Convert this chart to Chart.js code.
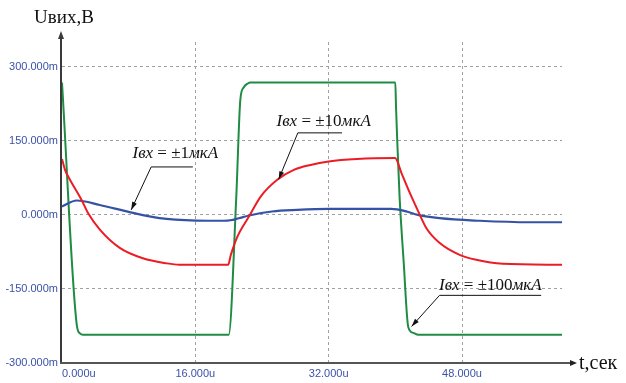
<!DOCTYPE html>
<html>
<head>
<meta charset="utf-8">
<script src="https://cdn.jsdelivr.net/npm/chart.js@4/dist/chart.umd.min.js"></script>
<style>
html, body { margin: 0; padding: 0; background: #fff; }
#wrap { width: 626px; height: 383px; position: relative; }
</style>
</head>
<body>
<div id="wrap"><canvas id="chart"></canvas></div>
<script>
// Данные (время в мкс, напряжение в мВ)
const xTicks = [0, 16, 32, 48, 60];
const yTicks = [-300, -150, 0, 150, 300];

// Iвх = ±100мкА
const greenT = [0, 1.8, 2.15, 2.5, 20.0, 20.9, 21.4, 21.8, 22.3, 22.6, 40.0, 40.08, 40.24, 40.5, 41.0, 41.55, 42.15, 42.75, 60];
const greenV = [268, -226, -240, -243, -243, 31, 233, 258, 266, 268, 268, 220, 146, 40, -95, -227, -239, -243, -243];

// Iвх = ±10мкА
const redT = [0, 0.36, 0.96, 2.35, 3.14, 4.54, 6.93, 9.7, 12.5, 14.1, 19.94, 20.26, 21.05, 22.45, 23.84, 25.83, 27.82, 29.82, 32.0, 35.38, 39.96, 40.75, 41.75, 42.75, 43.73, 45.33, 47.72, 49.7, 52.9, 60];
const redV = [113, 91, 71, 30, 3, -30, -67, -88, -98, -101, -101, -81, -44, -3, 37, 71, 91, 101, 108, 113, 115, 84, 44, 7, -27, -57, -81, -91, -99, -101];

// Iвх = ±1мкА
const blueT = [0, 1.76, 4.54, 8.1, 11.7, 16.1, 19.5, 20.2, 21.2, 22.45, 25.2, 28.2, 32, 39.5, 40.2, 41.3, 42.7, 45.3, 50.1, 56.1, 60];
const blueV = [17, 29, 20, 5.5, -6.7, -11.5, -12, -11, -7, -1.4, 6.8, 10, 12, 12, 11, 7, 0, -6.8, -12, -15, -15];

// Подписи кривых: текст, центр текста, концы полки, острие стрелки (в единицах осей)
const annText = ['Iвх = ±1мкА', 'Iвх = ±10мкА', 'Iвх = ±100мкА'];
const annTextPos = [[13.6, 115], [31.4, 179], [51.4, -152]];
const annShelf = [[10.7, 15.7, 98], [28.3, 33.6, 167], [45.3, 57.5, -162]];
const annTip = [[8.3, 10], [26.0, 72], [41.95, -226]];

function pts(t, v) {
    return t.map((x, i) => ({ x: x, y: v[i] }));
}

function arrowHead(ctx, x0, y0, x1, y1, len, half) {
    const a = Math.atan2(y1 - y0, x1 - x0);
    ctx.beginPath();
    ctx.moveTo(x1, y1);
    ctx.lineTo(x1 - len * Math.cos(a) + half * Math.sin(a), y1 - len * Math.sin(a) - half * Math.cos(a));
    ctx.lineTo(x1 - len * Math.cos(a) - half * Math.sin(a), y1 - len * Math.sin(a) + half * Math.cos(a));
    ctx.closePath();
    ctx.fill();
}

// Оси со стрелками и подписи осей
const axesPlugin = {
    id: 'axes',
    beforeDatasetsDraw(chart) {
        const ctx = chart.ctx;
        const a = chart.chartArea;
        ctx.save();
        ctx.strokeStyle = '#3a3a3a';
        ctx.fillStyle = '#3a3a3a';
        ctx.lineWidth = 2;
        ctx.beginPath();
        ctx.moveTo(a.left - 1, a.bottom);
        ctx.lineTo(a.left - 1, a.top - 4);
        ctx.stroke();
        arrowHead(ctx, a.left - 1, a.bottom, a.left - 1, a.top - 11, 8, 3);
        ctx.lineWidth = 2;
        ctx.strokeStyle = '#555';
        ctx.fillStyle = '#222';
        ctx.beginPath();
        ctx.moveTo(a.left - 2, a.bottom);
        ctx.lineTo(a.right + 9, a.bottom);
        ctx.stroke();
        arrowHead(ctx, a.left, a.bottom, a.right + 15, a.bottom, 7, 3);
        ctx.restore();
    },
    afterDraw(chart) {
        const ctx = chart.ctx;
        const a = chart.chartArea;
        ctx.save();
        ctx.fillStyle = '#111';
        ctx.font = '19px "Liberation Serif", "Times New Roman", serif';
        ctx.textAlign = 'center';
        ctx.textBaseline = 'alphabetic';
        ctx.fillText('Uвих,В', a.left + 2, a.top - 19);
        ctx.textAlign = 'left';
        ctx.font = '20px "Liberation Serif", "Times New Roman", serif';
        ctx.fillText('t,сек', a.right + 17, a.bottom + 6);
        ctx.restore();
    }
};

// Выноски с подписями кривых
const notesPlugin = {
    id: 'notes',
    afterDatasetsDraw(chart) {
        const ctx = chart.ctx;
        const xs = chart.scales.x;
        const ys = chart.scales.y;
        ctx.save();
        annText.forEach((txt, i) => {
            // полка и выноска
            const sx0 = xs.getPixelForValue(annShelf[i][0]);
            const sx1 = xs.getPixelForValue(annShelf[i][1]);
            const sy = ys.getPixelForValue(annShelf[i][2]);
            const tx = xs.getPixelForValue(annTip[i][0]);
            const ty = ys.getPixelForValue(annTip[i][1]);
            ctx.strokeStyle = '#111';
            ctx.fillStyle = '#111';
            ctx.lineWidth = 1;
            ctx.beginPath();
            ctx.moveTo(sx1, sy + 0.5);
            ctx.lineTo(sx0, sy + 0.5);
            ctx.lineTo(tx, ty);
            ctx.stroke();
            arrowHead(ctx, sx0, sy, tx, ty, 8, 2.5);

            // текст: буквы курсивом, цифры и знаки прямо
            const parts = txt.split(/([0-9=± ]+)/).filter(s => s.length);
            const fontOf = s => (/[0-9=± ]/.test(s[0]) ? '' : 'italic ') + '17px "Liberation Serif", "Times New Roman", serif';
            let w = 0;
            parts.forEach(p => { ctx.font = fontOf(p); w += ctx.measureText(p).width; });
            let x = xs.getPixelForValue(annTextPos[i][0]) - w / 2;
            const y = ys.getPixelForValue(annTextPos[i][1]);
            ctx.textBaseline = 'alphabetic';
            ctx.textAlign = 'left';
            parts.forEach(p => {
                ctx.font = fontOf(p);
                ctx.fillText(p, x, y);
                x += ctx.measureText(p).width;
            });
        });
        ctx.restore();
    }
};

const tickFont = { family: '"Liberation Sans", Arial, sans-serif', size: 11 };
const tickColor = '#3b52a6';

new Chart(document.getElementById('chart'), {
    type: 'line',
    data: {
        datasets: [
            { data: pts(redT, redV), borderColor: '#ec1c24', borderWidth: 2 },
            { data: pts(blueT, blueV), borderColor: '#3552a5', borderWidth: 2.2 },
            { data: pts(greenT, greenV), borderColor: '#1f8b43', borderWidth: 2 }
        ]
    },
    options: {
        responsive: true,
        maintainAspectRatio: false,
        animation: false,
        events: [],
        layout: { padding: { top: 42, right: 64, left: 0, bottom: 0 } },
        elements: {
            point: { radius: 0 },
            line: { cubicInterpolationMode: 'monotone', fill: false }
        },
        plugins: {
            legend: { display: false },
            tooltip: { enabled: false }
        },
        scales: {
            x: {
                type: 'linear',
                min: 0,
                max: 60,
                afterFit(scale) { scale.height = 20; },
                afterBuildTicks(scale) { scale.ticks = xTicks.map(v => ({ value: v })); },
                border: { display: false, dash: [3, 3] },
                grid: {
                    drawTicks: false,
                    lineWidth: 1,
                    color: c => (c.tick && (c.tick.value === 0 || c.tick.value === 60)) ? 'rgba(0,0,0,0)' : '#a0a0a0'
                },
                ticks: {
                    padding: 4,
                    align: 'inner',
                    maxRotation: 0,
                    autoSkip: false,
                    color: tickColor,
                    font: tickFont,
                    callback: v => v === 60 ? '' : v.toFixed(3) + 'u'
                }
            },
            y: {
                type: 'linear',
                min: -300,
                max: 350,
                afterFit(scale) { scale.width = 62; },
                afterBuildTicks(scale) { scale.ticks = yTicks.map(v => ({ value: v })); },
                border: { display: false, dash: [3, 3] },
                grid: {
                    drawTicks: false,
                    lineWidth: 1,
                    color: c => (c.tick && c.tick.value === -300) ? 'rgba(0,0,0,0)' : '#a0a0a0'
                },
                ticks: {
                    padding: 4,
                    autoSkip: false,
                    color: tickColor,
                    font: tickFont,
                    callback: v => v.toFixed(3) + 'm'
                }
            }
        }
    },
    plugins: [axesPlugin, notesPlugin]
});
</script>
</body>
</html>
